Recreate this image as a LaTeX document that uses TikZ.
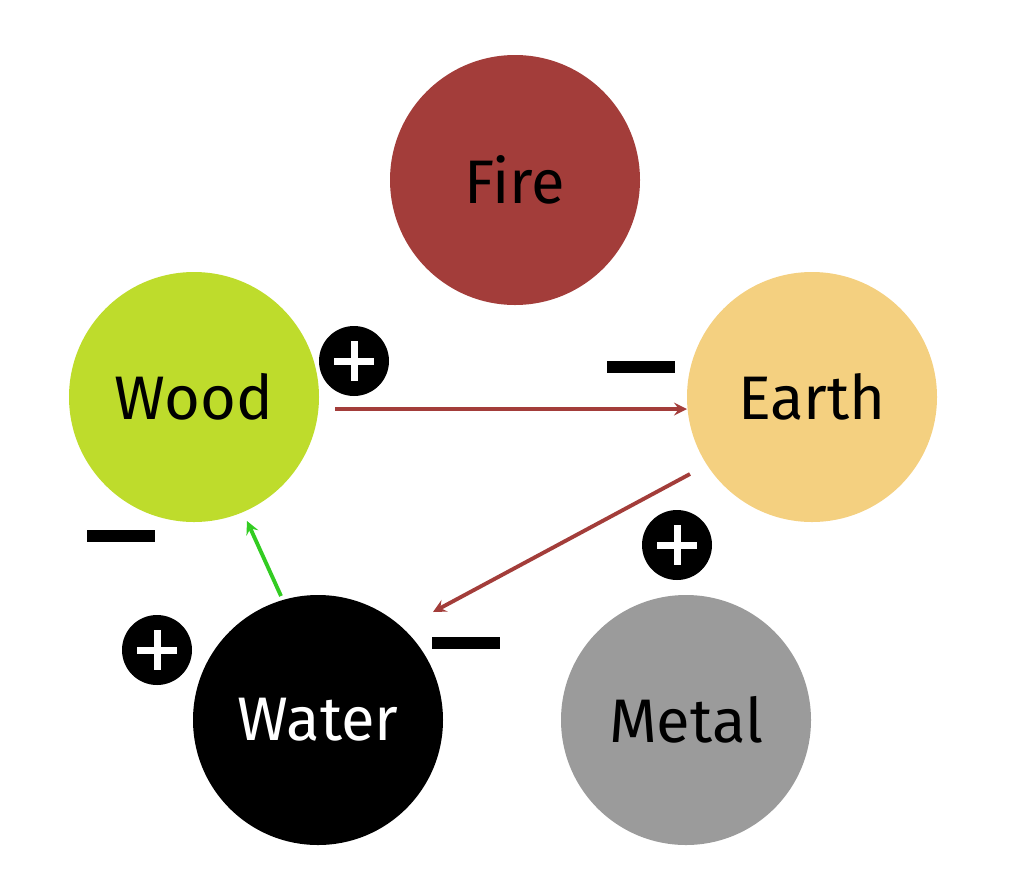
\documentclass[tikz,border=0pt]{standalone}
\usepackage{fontspec}
\setmainfont{Fira Sans}
\definecolor{firered}{HTML}{A33D3A}
\definecolor{woodgreen}{HTML}{BEDC2C}
\definecolor{earthsand}{HTML}{F4D080}
\definecolor{metalgray}{HTML}{9B9B9B}
\definecolor{arrowgreen}{HTML}{33CC22}
\tikzstyle{arrow} = [->,>=stealth,line width=2.2pt]
\tikzstyle{element} = [circle,minimum size=250*0.02cm,inner sep=0pt,font=\fontsize{35}{40}\selectfont]
\tikzstyle{plus} = [circle,fill=black,minimum size=70*0.02cm,inner sep=0pt]
\tikzstyle{minus} = [fill=black,minimum width=68*0.02cm,minimum height=12*0.02cm,inner sep=0pt]

\begin{document}
\begin{tikzpicture}[x=0.02cm,y=-0.02cm]
        \useasboundingbox (0,0) rectangle (1014,893);
        \node[element, fill=firered] at (515,180) (fire) {Fire};
        \node[element, fill=woodgreen] at (194,397) (wood) {Wood};
        \node[element, fill=earthsand] at (812,397) (earth) {Earth};
        \node[element, fill=black, text=white] at (318,720) (water) {Water};
        \node[element, fill=metalgray] at (686,720) (metal) {Metal};

        \foreach \n/\x/\y in {p1/354/361, p2/677/545, p3/157/650} {
            \node[plus] at (\x,\y) (\n) {};
            \draw[white, line width=7*0.02cm] (\x-20,\y) -- (\x+20,\y) (\x,\y-20) -- (\x,\y+20);
        }
        \node[minus] at (641,367) (m1) {};
        \node[minus] at (121,536) (m2) {};
        \node[minus] at (466,643) (m3) {};

        \coordinate (a1) at (335,409);
        \coordinate (a2) at (687,409);
        \coordinate (b1) at (690,474);
        \coordinate (b2) at (433,612);
        \coordinate (c1) at (281,596);
        \coordinate (c2) at (247,521);
        \draw[arrow, firered] (a1) -- (a2);
        \draw[arrow, firered] (b1) -- (b2);
        \draw[arrow, arrowgreen] (c1) -- (c2);
\end{tikzpicture}
\end{document}
